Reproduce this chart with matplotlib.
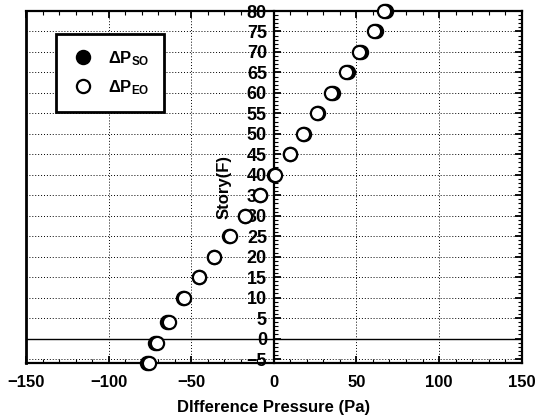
import numpy as np
import matplotlib
matplotlib.use('Agg')
import matplotlib.pyplot as plt
from matplotlib.ticker import MultipleLocator

plt.rcParams['font.family'] = ['Liberation Sans', 'DejaVu Sans']
plt.rcParams['mathtext.fontset'] = 'custom'
plt.rcParams['mathtext.rm'] = 'Liberation Sans'
plt.rcParams['mathtext.bf'] = 'Liberation Sans:bold'
plt.rcParams['mathtext.it'] = 'Liberation Sans:italic'

story = [80, 75, 70, 65, 60, 55, 50, 45, 40, 35, 30, 25, 20, 15, 10, 4, -1, -6]
dp_so = [68, 62, 53, 45, 36, 27, 18.5, 10, 0, -8.5, -17.5, -27, -36, -45.5, -55, -64.5, -72, -76.5]
dp_eo = [66.5, 60.5, 51.5, 43.5, 34.8, 26.3, 17.9, 9.8, 1, -8.4, -17.4, -26.5, -36, -45.3, -54.2, -63.2, -70.9, -75.4]
xticks = [-150, -100, -50, 0, 50, 100, 150]
yticks = list(range(-5, 81, 5))

fig = plt.figure(figsize=(5.35, 4.19), dpi=100)
ax = fig.add_axes([0.0486, 0.1344, 0.9265, 0.8393])

ax.set_xlim(-150, 150)
ax.set_ylim(-5.9, 80)

# grid
for yv in yticks:
    ax.axhline(yv, color='k', lw=0.7, ls=(0, (1, 2)), zorder=1)
for xv in [-100, -50, 50, 100]:
    ax.axvline(xv, color='k', lw=0.7, ls=(0, (1, 2)), zorder=1)
ax.axhline(0, color='k', lw=1.0, zorder=2)
ax.axvline(-150, color='k', lw=2, zorder=5, clip_on=False)

ax.plot(dp_so, story, 'o', ms=9.5, mfc='k', mec='k', mew=1.6, clip_on=False, zorder=6, label=r'$\mathbf{\Delta P_{SO}}$')
ax.plot(dp_eo, story, 'o', ms=9.5, mfc='white', mec='k', mew=1.6, clip_on=False, zorder=7, label=r'$\mathbf{\Delta P_{EO}}$')

ax.spines['left'].set_position(('data', 0))
for s in ['left', 'right', 'top', 'bottom']:
    ax.spines[s].set_linewidth(1.6)

ax.set_xticks(xticks)
ax.set_yticks(yticks)
ax.xaxis.set_minor_locator(MultipleLocator(10))
ax.yaxis.set_minor_locator(MultipleLocator(1))
ax.tick_params(axis='x', which='both', direction='in', top=True)
ax.tick_params(axis='y', which='both', direction='in', right=True)
ax.tick_params(which='major', length=5, width=1.3)
ax.tick_params(which='minor', length=3, width=0.8)
ax.tick_params(axis='x', which='major', pad=9)
ax.tick_params(axis='y', which='major', pad=5)
for lab in ax.get_xticklabels():
    lab.set_fontsize(12)
    lab.set_fontweight('bold')
for lab in ax.get_yticklabels():
    lab.set_fontsize(13)
    lab.set_fontweight('bold')

ax.set_xlabel('DIfference Pressure (Pa)', fontsize=12, fontweight='bold', labelpad=7)
ax.set_ylabel('Story(F)', fontsize=12, fontweight='bold')
ax.yaxis.set_label_coords(0.415, 0.5)

leg = ax.legend(loc='upper left', bbox_to_anchor=(0.0605, 0.934), fontsize=12,
                frameon=True, fancybox=False, edgecolor='k', framealpha=1,
                handlelength=1.4, handletextpad=0.8, borderpad=0.9, labelspacing=0.6,
                borderaxespad=0)
leg.get_frame().set_linewidth(2)

fig.savefig('out.png', dpi=100)
